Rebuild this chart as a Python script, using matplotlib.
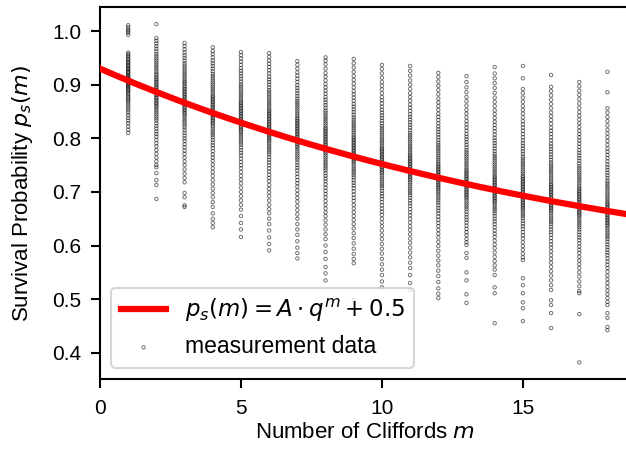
import numpy as np
import matplotlib
matplotlib.use("Agg")
import matplotlib.pyplot as plt

plt.rcParams['font.family'] = ['Liberation Sans', 'DejaVu Sans']
plt.rcParams['mathtext.fontset'] = 'dejavusans'

# Number of Cliffords (column positions)
cliffords = list(range(1, 19))

m01 = [1011,1007,1003,1000,997,993,960,957,954,951,948,945,942,940,937,935,932,930,928,925,923,921,918,916,914,912,910,908,906,904,902,900,898,896,893,891,889,886,883,880,877,874,871,868,864,860,856,852,848,843,838,833,828,822,816,810]
m02 = [1013,987,982,977,972,967,962,957,953,949,945,941,937,933,929,925,921,918,914,911,908,905,902,899,896,893,890,887,884,881,878,875,872,869,866,863,860,857,853,849,845,841,837,833,828,823,818,813,808,803,797,791,785,778,771,764,757,750,746,735,722,713,687]
m03 = [978,972,966,960,955,950,945,940,936,932,928,924,920,916,912,908,905,902,898,895,892,889,886,883,880,877,874,871,868,865,862,859,856,853,850,847,844,840,836,832,828,824,820,815,810,805,800,795,789,783,777,771,764,757,750,742,734,726,718,698,690,675,672]
m04 = [970,963,957,951,945,940,935,930,925,920,916,912,908,904,900,896,892,888,884,880,877,874,871,868,865,862,859,856,853,850,847,844,841,838,835,832,829,826,822,818,814,810,806,802,797,792,787,782,776,770,764,758,751,744,737,730,722,714,706,698,690,681,672,660,650,642,634]
m05 = [961,955,949,943,937,931,926,921,916,911,906,901,897,893,889,885,881,877,873,869,866,863,860,857,854,851,848,845,842,839,836,833,830,827,824,821,818,815,812,808,804,800,796,792,788,783,778,773,768,762,756,750,744,737,730,723,716,708,700,692,684,676,667,655,642,630,616]
m06 = [959,952,945,939,933,927,921,915,910,905,900,895,890,886,882,878,874,870,866,862,858,854,851,848,845,842,839,836,833,830,827,824,821,818,815,812,809,806,803,800,797,794,790,786,782,778,774,770,765,760,755,750,744,738,732,726,720,713,706,699,692,684,676,668,660,650,640,628,615,603,591]
m07 = [944,937,930,923,917,911,905,899,894,889,884,879,874,870,866,862,858,854,850,846,842,838,835,832,829,826,823,820,817,814,811,808,805,802,799,796,793,790,787,784,780,776,772,768,764,760,755,750,745,740,734,728,722,716,710,703,696,689,682,674,666,658,650,640,630,620,608,596,586,576]
m08 = [951,945,938,930,922,915,908,901,895,889,883,877,872,867,862,857,852,848,844,840,836,832,828,824,820,817,814,811,808,805,802,799,796,793,790,787,784,781,778,775,772,768,764,760,756,752,748,744,740,735,730,725,720,714,708,702,696,690,683,676,669,662,655,647,639,630,621,612,600,588,575,560,548,535]
m09 = [948,940,932,924,916,909,902,895,888,882,876,870,864,859,854,849,844,839,835,831,827,823,819,815,811,807,803,800,797,794,791,788,785,782,779,776,773,770,767,764,761,758,755,751,747,743,739,735,731,727,722,717,712,707,701,695,689,683,676,669,662,655,648,640,632,623,614,604,594,584,575,567,498]
m10 = [937,929,921,913,905,898,891,884,877,871,865,859,853,848,843,838,833,828,823,819,815,811,807,803,799,795,791,787,783,780,777,774,771,768,765,762,759,756,753,750,747,744,741,738,735,731,727,723,719,715,711,707,702,697,692,687,681,675,669,663,657,650,643,636,628,620,612,603,594,585,575,565,555,545,533,522]
m11 = [935,926,917,908,900,892,884,877,870,863,857,851,845,840,835,830,825,820,815,810,806,802,798,794,790,786,782,778,774,770,767,764,761,758,755,752,749,746,743,740,737,734,731,728,725,722,718,714,710,706,702,698,694,689,684,679,674,668,662,656,650,643,636,629,621,613,605,596,587,578,568,558,545,530,517]
m12 = [922,914,906,898,890,882,874,867,860,853,846,840,834,828,822,817,812,807,802,797,792,788,784,780,776,772,768,764,760,756,752,749,746,743,740,737,734,731,728,725,722,719,716,713,710,707,704,700,696,692,688,684,680,675,670,665,660,654,648,642,636,629,622,615,607,599,590,581,572,563,553,543,532,520,510,502]
m13 = [916,905,895,886,877,869,861,853,846,839,832,826,820,814,808,803,798,793,788,783,778,774,770,766,762,758,754,750,746,742,739,736,733,730,727,724,721,718,715,712,709,706,703,700,697,694,691,688,684,680,676,672,668,663,658,653,648,643,637,631,625,619,612,606,601,586,577,550,535,509,493]
m14 = [933,921,912,903,894,885,876,868,860,852,845,838,831,825,819,813,807,801,796,791,786,781,776,771,767,763,759,755,751,747,743,739,735,731,728,725,722,719,716,713,710,707,704,701,698,695,692,689,686,683,680,676,672,668,664,660,655,650,645,640,634,628,622,616,609,602,595,587,579,571,563,555,545,522,511,455]
m15 = [935,912,892,884,876,868,860,853,846,839,832,826,820,814,808,802,796,791,786,781,776,771,766,762,758,754,750,746,742,738,734,730,727,724,721,718,715,712,709,706,703,700,697,694,691,688,685,682,679,676,673,670,667,663,659,655,651,646,641,636,631,625,619,613,606,599,592,585,578,573,539,526,511,494,483,459]
m16 = [918,896,888,880,872,864,856,848,841,834,827,820,814,808,802,796,790,785,780,775,770,765,760,755,751,747,743,739,735,731,727,723,719,715,712,709,706,703,700,697,694,691,688,685,682,679,676,673,670,667,664,660,656,652,648,644,640,635,630,625,620,614,608,602,596,589,582,575,568,560,552,544,535,526,517,498,489,474,446]
m17 = [905,897,889,881,873,865,857,849,842,835,828,821,814,808,802,796,790,784,778,773,768,763,758,753,748,744,740,736,732,728,724,720,716,712,708,705,702,699,696,693,690,687,684,681,678,675,672,669,666,663,660,657,654,650,646,642,638,634,630,625,620,615,610,604,598,592,586,579,572,565,558,550,542,533,524,515,511,472,382]
m18 = [924,886,856,848,840,832,824,816,809,802,795,788,781,775,769,763,757,751,746,741,736,731,726,721,717,713,709,705,701,697,693,689,685,681,678,675,672,669,666,663,660,657,654,651,648,645,642,639,636,632,628,624,620,616,612,607,602,597,592,587,582,576,570,564,558,551,544,537,530,523,516,509,502,495,489,474,465,448,442]

columns = [m01, m02, m03, m04, m05, m06, m07, m08, m09, m10,
           m11, m12, m13, m14, m15, m16, m17, m18]

# Fit parameters of p_s(m) = A * q^m + 0.5
fit_A = 0.43
fit_q = 0.948
fit_offset = 0.5

xticks = [0, 5, 10, 15]
yticks = [0.4, 0.5, 0.6, 0.7, 0.8, 0.9, 1.0]

fig = plt.figure(figsize=(6.26, 4.49), dpi=100)
ax = fig.add_axes([100/626, 70/449, 530/626, 372/449])

xs, ys = [], []
for m, col in zip(cliffords, columns):
    for v in col:
        xs.append(m)
        ys.append(v / 1000.0)

mm = np.linspace(0, 19, 300)
ax.plot(mm, fit_A * fit_q ** mm + fit_offset, color='red', lw=4.5,
        label=r'$p_s(m) = A \cdot q^m + 0.5$', zorder=3)

ax.scatter(xs, ys, s=6, facecolors='none', edgecolors=(0, 0, 0, 0.55),
           linewidths=0.7, label='measurement data', zorder=2)

ax.set_xlim(0, 18.8)
ax.set_ylim(0.351, 1.045)
ax.set_xticks(xticks)
ax.set_yticks(yticks)
ax.tick_params(labelsize=15, width=1.5, length=6.5)
ax.tick_params(axis='y', pad=7)
ax.tick_params(axis='x', pad=8)
for s in ax.spines.values():
    s.set_linewidth(1.5)
ax.set_xlabel(r'Number of Cliffords $m$', fontsize=16, labelpad=3)
ax.set_ylabel(r'Survival Probability $p_s(m)$', fontsize=16, labelpad=12)

leg = ax.legend(loc='lower left', fontsize=16.5, framealpha=0.8)
leg.get_frame().set_linewidth(1.5)

fig.savefig('out.png', dpi=100)
